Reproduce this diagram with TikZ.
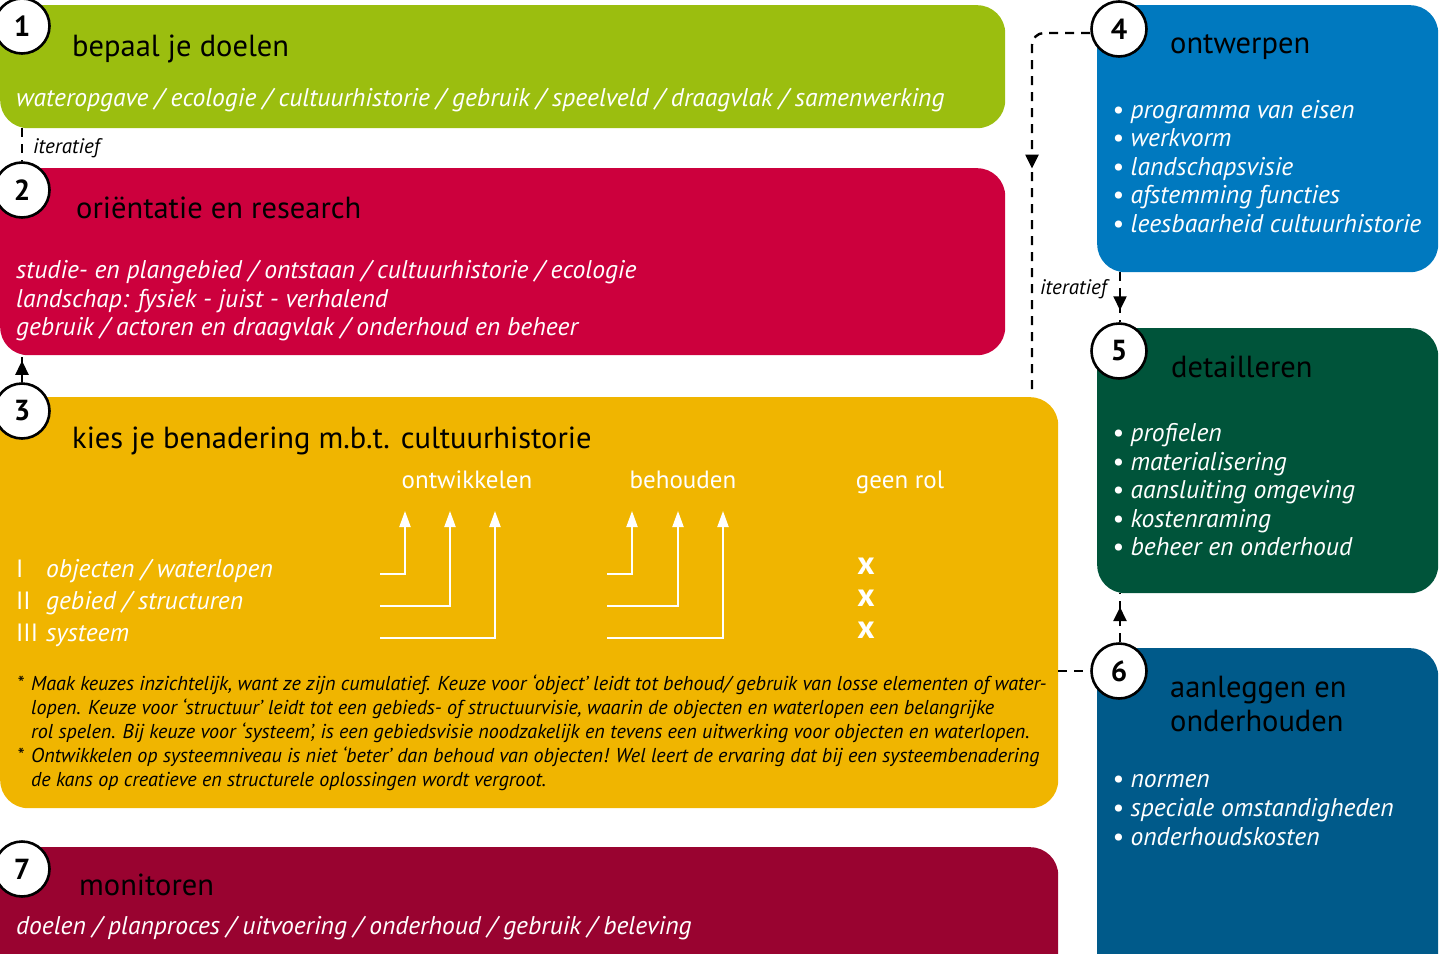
\documentclass[tikz,border=0pt]{standalone}
\usepackage{fontspec}
\setmainfont{PT Sans}
\usetikzlibrary{arrows.meta,decorations.markings}
\definecolor{cgreen}{HTML}{9BBE0F}
\definecolor{cred}{HTML}{CC003D}
\definecolor{cyellow}{HTML}{F0B500}
\definecolor{cdred}{HTML}{990330}
\definecolor{cblue}{HTML}{0079BF}
\definecolor{cdgreen}{HTML}{00543A}
\definecolor{cdblue}{HTML}{005A8A}
\tikzset{
  box/.style={rectangle, rounded corners=28pt, draw=none, anchor=north west, inner sep=0pt},
  num/.style={circle, draw=black, line width=2.6pt, fill=white, minimum size=55pt, inner sep=0pt,
    font=\bfseries\fontsize{29}{29}\selectfont},
  title/.style={anchor=base west, inner sep=0pt, text=black, font=\fontsize{30.5}{34}\selectfont},
  sub/.style={anchor=base west, inner sep=0pt, text=white, font=\itshape\fontsize{25.6}{30}\selectfont},
  itlab/.style={anchor=base west, inner sep=0pt, text=black, font=\itshape\fontsize{21}{24}\selectfont},
  head/.style={anchor=base, inner sep=0pt, text=white, font=\fontsize{25}{30}\selectfont},
  foot/.style={anchor=base west, inner sep=0pt, text=black, font=\itshape\fontsize{20.1}{24}\selectfont},
  xmark/.style={inner sep=0pt, text=white, font=\bfseries\fontsize{33}{33}\selectfont},
  dashline/.style={draw=black, line width=2.4pt, dash pattern=on 9pt off 7pt},
  midarrow/.style={postaction={decorate, decoration={markings,
    mark=at position #1 with {\arrow{Triangle[length=14pt,width=13pt]}}}}},
  warrow/.style={draw=white, line width=2pt, -{Triangle[length=16pt,width=11pt]}},
}
\begin{document}
\begin{tikzpicture}[x=1pt, y=-1pt]
\useasboundingbox (0,0) rectangle (1450,953);
\clip (0,0) rectangle (1450,953);
% boxes
\node[box, fill=cgreen, minimum width=1005pt, minimum height=123pt] (b1) at (0,5) {};
\node[box, fill=cred, minimum width=1005pt, minimum height=187pt] (b2) at (0,168) {};
\node[box, fill=cyellow, minimum width=1058pt, minimum height=411pt] (b3) at (0,397) {};
\node[box, fill=cdred, minimum width=1058pt, minimum height=150pt] (b7) at (0,847) {};
\node[box, fill=cblue, minimum width=341pt, minimum height=267pt] (b4) at (1097,5) {};
\node[box, fill=cdgreen, minimum width=341pt, minimum height=265pt] (b5) at (1097,328) {};
\node[box, fill=cdblue, minimum width=341pt, minimum height=350pt] (b6) at (1097,648) {};

% numbered circles
\node[num] (c1) at (22,26) {1};
\node[num] (c2) at (22,190) {2};
\node[num] (c3) at (22,411) {3};
\node[num] (c4) at (1119,29) {4};
\node[num] (c5) at (1119,351) {5};
\node[num] (c6) at (1119,671) {6};
\node[num] (c7) at (22,869) {7};

% connectors
\coordinate (e4) at (1032,390);
\draw[dashline] (c2.north |- b1.south) -- (c2.north);
\draw[dashline, midarrow=0.46, rounded corners=12pt] ([yshift=-4pt]c4.west) -| (e4);
\draw[dashline, midarrow=0.76] ([xshift=1pt]c5.north |- b4.south) -- ([xshift=1pt]c5.north);
\draw[dashline, midarrow=0.72] ([xshift=1pt]c6.north) -- ([xshift=1pt]c6.north |- b5.south);
\draw[dashline, midarrow=0.8] (c3.north) -- (c3.north |- b2.south);
\draw[dashline] (b3.east |- c6.west) -- (c6.west);

\node[itlab] (it1) at (33,153) {iteratief};
\node[itlab] (it2) at (1040,294) {iteratief};

% box 1
\node[title] (t1) at (72,56) {bepaal je doelen};
\node[sub] (s1) at (16,106) {wateropgave / ecologie / cultuurhistorie / gebruik / speelveld / draagvlak / samenwerking};
% box 2
\node[title] (t2t) at (76,218) {oriëntatie en research};
\node[sub] (s21) at (16,278) {studie- en plangebied / ontstaan / cultuurhistorie / ecologie};
\node[sub] (s22) at (16,307) {landschap: fysiek - juist - verhalend};
\node[sub] (s23) at (16,335) {gebruik / actoren en draagvlak / onderhoud en beheer};
% box 3
\node[title] (t3) at (72,448) {kies je benadering m.b.t. cultuurhistorie};
\node[head] (h1) at (467,488) {ontwikkelen};
\node[head] (h2) at (683,488) {behouden};
\node[head] (h3) at (900,488) {geen rol};
\node[sub, font=\fontsize{25}{30}\selectfont] (r1n) at (16,577) {I};
\node[sub, font=\fontsize{25}{30}\selectfont] (r2n) at (16,609) {II};
\node[sub, font=\fontsize{25}{30}\selectfont] (r3n) at (16,641) {III};
\node[sub] (r1) at (46,577) {objecten / waterlopen};
\node[sub] (r2) at (46,609) {gebied / structuren};
\node[sub] (r3) at (46,641) {systeem};
\foreach \xs/\a/\b/\c/\n in {380/405/450/495/o, 607/632/678/723/b}{
  \coordinate (\n1s) at (\xs,574); \coordinate (\n1e) at (\a,511);
  \coordinate (\n2s) at (\xs,606); \coordinate (\n2e) at (\b,511);
  \coordinate (\n3s) at (\xs,638); \coordinate (\n3e) at (\c,511);
  \draw[warrow] (\n1s) -| (\n1e);
  \draw[warrow] (\n2s) -| (\n2e);
  \draw[warrow] (\n3s) -| (\n3e);
}
\node[xmark] (x1) at (866,566) {x};
\node[xmark] (x2) at (866,598) {x};
\node[xmark] (x3) at (866,630) {x};
\node[foot] (f0) at (17,690) {*};
\node[foot] (f1) at (31,690) {Maak keuzes inzichtelijk, want ze zijn cumulatief. Keuze voor ‘object’ leidt tot behoud/ gebruik van losse elementen of water-};
\node[foot] (f2) at (31,714) {lopen. Keuze voor ‘structuur’ leidt tot een gebieds- of structuurvisie, waarin de objecten en waterlopen een belangrijke};
\node[foot] (f3) at (31,738) {rol spelen. Bij keuze voor ‘systeem’, is een gebiedsvisie noodzakelijk en tevens een uitwerking voor objecten en waterlopen.};
\node[foot] (f4s) at (17,762) {*};
\node[foot] (f4) at (31,762) {Ontwikkelen op systeemniveau is niet ‘beter’ dan behoud van objecten! Wel leert de ervaring dat bij een systeembenadering};
\node[foot] (f5) at (31,786) {de kans op creatieve en structurele oplossingen wordt vergroot.};
% box 7
\node[title] (t7) at (79,895) {monitoren};
\node[sub] (s7) at (16,934) {doelen / planproces / uitvoering / onderhoud / gebruik / beleving};
% box 4
\node[title] (t4) at (1170,53) {ontwerpen};
\foreach \t [count=\i] in {programma van eisen, werkvorm, landschapsvisie, afstemming functies, leesbaarheid cultuurhistorie}
  \node[sub] (l4\i) at (1112,89.5+28.6*\i) {\textbullet\ \t};
% box 5
\node[title] (t5) at (1171,377) {detailleren};
\foreach \t [count=\i] in {profielen, materialisering, aansluiting omgeving, kostenraming, beheer en onderhoud}
  \node[sub] (l5\i) at (1112,413.5+28.4*\i) {\textbullet\ \t};
% box 6
\node[title] (t6a) at (1170,697) {aanleggen en};
\node[title] (t6b) at (1170,731) {onderhouden};
\foreach \t [count=\i] in {normen, speciale omstandigheden, onderhoudskosten}
  \node[sub] (l6\i) at (1112,758+29*\i) {\textbullet\ \t};
\end{tikzpicture}
\end{document}
